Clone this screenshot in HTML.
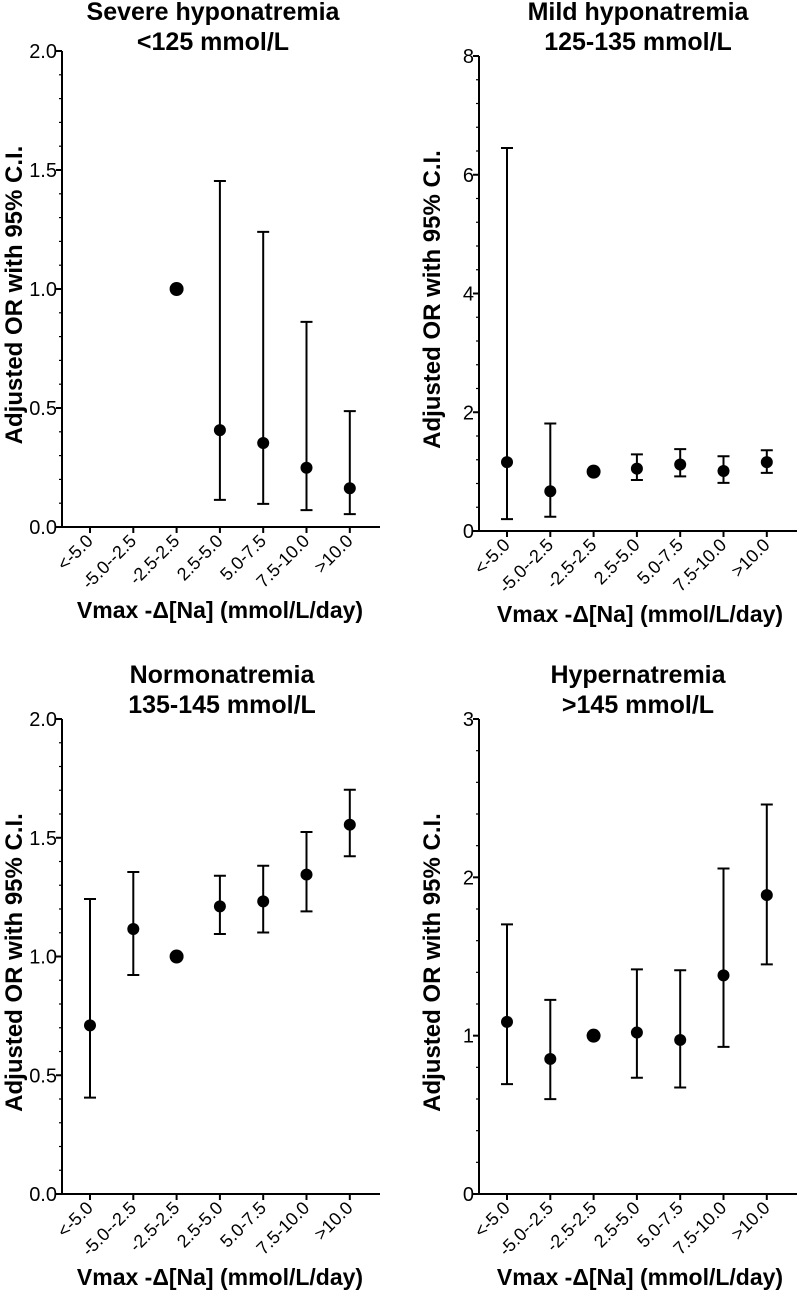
<!DOCTYPE html>
<html><head><meta charset="utf-8"><style>
html,body{margin:0;padding:0;background:#fff;}
svg{display:block;font-family:"Liberation Sans",Arial,sans-serif;}
</style></head><body>
<svg id="chart" width="800" height="1293" viewBox="0 0 800 1293" xmlns="http://www.w3.org/2000/svg"></svg>
<script>
const categories = ["<-5.0","-5.0--2.5","-2.5-2.5","2.5-5.0","5.0-7.5","7.5-10.0",">10.0"];
const refIndex = 2;
// Severe hyponatremia
const severeOR = [null,null,1.0,0.407,0.353,0.249,0.163];
const severeLo = [null,null,null,0.114,0.097,0.071,0.054];
const severeHi = [null,null,null,1.454,1.240,0.862,0.487];
const severeTicks = ["0.0","0.5","1.0","1.5","2.0"];
// Mild hyponatremia
const mildOR = [1.16,0.67,1.0,1.05,1.12,1.01,1.16];
const mildLo = [0.20,0.24,null,0.86,0.92,0.81,0.98];
const mildHi = [6.45,1.81,null,1.29,1.38,1.26,1.36];
const mildTicks = ["0","2","4","6","8"];
// Normonatremia
const normoOR = [0.710,1.116,1.0,1.211,1.232,1.345,1.555];
const normoLo = [0.406,0.922,null,1.095,1.101,1.190,1.422];
const normoHi = [1.242,1.356,null,1.340,1.382,1.524,1.702];
const normoTicks = ["0.0","0.5","1.0","1.5","2.0"];
// Hypernatremia
const hyperOR = [1.087,0.853,1.0,1.020,0.973,1.381,1.888];
const hyperLo = [0.694,0.599,null,0.734,0.673,0.929,1.450];
const hyperHi = [1.703,1.226,null,1.419,1.413,2.056,2.460];
const hyperTicks = ["0","1","2","3"];

const NS="http://www.w3.org/2000/svg";
const svg=document.getElementById('chart');
function mk(tag,attrs,parent,text){const e=document.createElementNS(NS,tag);for(const k in attrs)e.setAttribute(k,attrs[k]);if(text!==undefined)e.textContent=text;(parent||svg).appendChild(e);return e;}

function panel(cfg){
  const g=mk('g',{});
  
  
  const x0=cfg.ax, yTop=cfg.yTop, yBot=cfg.yBot, xEnd=cfg.xEnd;
  const yMax=parseFloat(cfg.ticks[cfg.ticks.length-1]);
  const ys=v=>yBot-(v/yMax)*(yBot-yTop);
  const xs=i=>x0+28+i*43.3;
  const t1=mk('text',{x:cfg.tx,y:cfg.ty,'text-anchor':'middle','font-size':25,'font-weight':'bold'},g,cfg.title1);
  
  
  const t2=mk('text',{x:cfg.tx,y:cfg.ty+30,'text-anchor':'middle','font-size':25,'font-weight':'bold'},g,cfg.title2);
  
  
  const ya=mk('line',{x1:x0,y1:yTop,x2:x0,y2:yBot+1,stroke:'#000','stroke-width':2},g);
  
  
  const xa=mk('line',{x1:x0-6,y1:yBot,x2:xEnd,y2:yBot,stroke:'#000','stroke-width':2},g);
  
  
  for(let v=0;v<=yMax+1e-9;v+=cfg.minor){
    mk('line',{x1:x0-3,y1:ys(v),x2:x0,y2:ys(v),stroke:'#000','stroke-width':1.2},g);
  }
  cfg.ticks.forEach(lbl=>{
    const v=parseFloat(lbl);
    mk('line',{x1:x0-6,y1:ys(v),x2:x0,y2:ys(v),stroke:'#000','stroke-width':2},g);
    const tl=mk('text',{x:x0-5,y:ys(v)+7,'text-anchor':'end','font-size':20},g,lbl);
    
    
  });
  categories.forEach((c,i)=>{
    const x=xs(i);
    mk('line',{x1:x,y1:yBot,x2:x,y2:yBot+6,stroke:'#000','stroke-width':2},g);
    const tl=mk('text',{x:x+4,y:yBot+15,'text-anchor':'end','font-size':18,transform:`rotate(-45 ${x+4} ${yBot+15})`},g,c);
    
    
  });
  const xt=mk('text',{x:cfg.xtx,y:yBot+91,'text-anchor':'middle','font-size':23,'font-weight':'bold'},g,'Vmax -\u0394[Na] (mmol/L/day)');
  
  
  const yc=(yTop+yBot)/2+6;
  const yt=mk('text',{x:cfg.ytx,y:yc,'text-anchor':'middle','font-size':24,'font-weight':'bold',transform:`rotate(-90 ${cfg.ytx} ${yc})`},g,'Adjusted OR with 95%  C.I.');
  
  
  cfg.or.forEach((v,i)=>{
    if(v===null)return;
    const x=xs(i);
    if(cfg.lo[i]!==null && cfg.hi[i]!==null){
      const eb=mk('path',{d:`M${x},${ys(cfg.lo[i])}V${ys(cfg.hi[i])}M${x-6},${ys(cfg.lo[i])}H${x+6}M${x-6},${ys(cfg.hi[i])}H${x+6}`,stroke:'#000','stroke-width':2,fill:'none'},g);
      
      
    }
    const p=mk('circle',{cx:x,cy:ys(v),r:i===refIndex?7:6,fill:'#000'},g);
    
    
  });
}
panel({name:'panel-severe-hyponatremia',ax:62,yTop:51,yBot:527,xEnd:380,tx:213,ty:20,xtx:220,ytx:22,ticks:severeTicks,minor:0.1,title1:'Severe hyponatremia',title2:'<125 mmol/L',or:severeOR,lo:severeLo,hi:severeHi});
panel({name:'panel-mild-hyponatremia',ax:479,yTop:56,yBot:531,xEnd:797,tx:638,ty:20,xtx:640,ytx:440,ticks:mildTicks,minor:0.4,title1:'Mild hyponatremia',title2:'125-135 mmol/L',or:mildOR,lo:mildLo,hi:mildHi});
panel({name:'panel-normonatremia',ax:62,yTop:719,yBot:1194,xEnd:380,tx:222,ty:683,xtx:220,ytx:22,ticks:normoTicks,minor:0.1,title1:'Normonatremia',title2:'135-145 mmol/L',or:normoOR,lo:normoLo,hi:normoHi});
panel({name:'panel-hypernatremia',ax:479,yTop:719,yBot:1194,xEnd:797,tx:638,ty:683,xtx:640,ytx:440,ticks:hyperTicks,minor:0.2,title1:'Hypernatremia',title2:'>145 mmol/L',or:hyperOR,lo:hyperLo,hi:hyperHi});
</script>
</body></html>
